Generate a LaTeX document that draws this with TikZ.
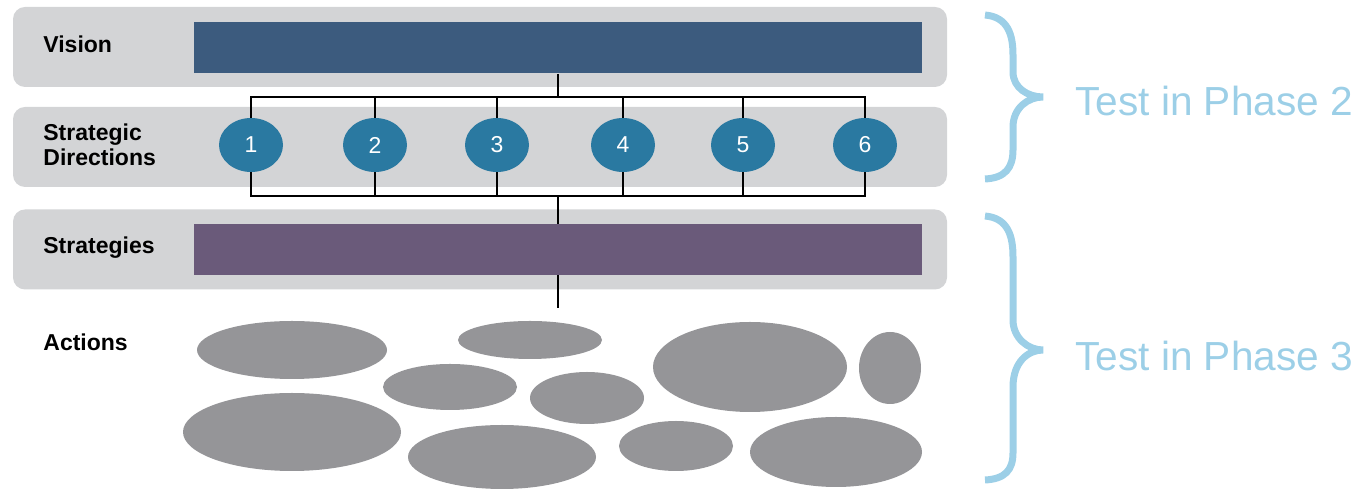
\documentclass[tikz,border=0pt]{standalone}
\usepackage{fontspec}
\setmainfont{Liberation Sans}
\usetikzlibrary{shapes.geometric}
\definecolor{band}{HTML}{D3D4D6}
\definecolor{visbar}{HTML}{3C5B7E}
\definecolor{stratbar}{HTML}{6A5A7A}
\definecolor{dirc}{HTML}{2A79A1}
\definecolor{actg}{HTML}{959598}
\definecolor{phase}{HTML}{9CCFE7}
\tikzset{
  bandbox/.style={fill=band, rounded corners=6pt, minimum width=467pt, minimum height=40pt, inner sep=0pt},
  barbox/.style={inner sep=0pt, minimum width=364pt, minimum height=25.5pt},
  dirnode/.style={ellipse, fill=dirc, minimum width=32pt, minimum height=27pt, inner sep=0pt, text=white, font=\fontsize{11.5}{13}\selectfont},
  lbl/.style={anchor=west, font=\bfseries\fontsize{11.5}{13.5}\selectfont, align=left, inner sep=0pt},
  act/.style={ellipse, fill=actg, inner sep=0pt},
  conn/.style={draw=black, line width=0.8pt},
  brace/.style={draw=phase, line width=3.5pt},
  phasetxt/.style={text=phase, font=\fontsize{20.3}{24}\selectfont, anchor=west, inner sep=0pt}
}
\begin{document}
\begin{tikzpicture}[x=0.5pt, y=-0.5pt]
\useasboundingbox (0,0) rectangle (1372,490);
% bands
\node[bandbox] (b1) at (480,47) {};
\node[bandbox] (b2) at (480,147) {};
\node[bandbox] (b3) at (480,249.5) {};
% bars
\node[barbox, fill=visbar] (vis) at (558,48) {};
\node[barbox, fill=stratbar] (strat) at (558,249.5) {};
% labels
\node[lbl] (lv) at (43,44) {Vision};
\node[lbl] (ld) at (43,145) {Strategic\\[-1pt]Directions};
\node[lbl] (ls) at (43,248) {Strategies};
\node[lbl] (la) at (43,342) {Actions};
% direction circles
\node[dirnode] (c1) at (251,145) {1};
\node[dirnode] (c2) at (375,145) {2};
\node[dirnode] (c3) at (497,145) {3};
\node[dirnode] (c4) at (623,145) {4};
\node[dirnode] (c5) at (743,145) {5};
\node[dirnode] (c6) at (865,145) {6};
% connectors
\coordinate (top) at (558,97);
\coordinate (bot) at (558,196);
\coordinate (endl) at (558,308);
\draw[conn] (vis.south) -- (top);
\draw[conn] (c1.north) -- (c1.north |- top) -- (c6.north |- top) -- (c6.north);
\foreach \i in {2,3,4,5} { \draw[conn] (c\i.north) -- (c\i.north |- top); }
\draw[conn] (c1.south) -- (c1.south |- bot) -- (c6.south |- bot) -- (c6.south);
\foreach \i in {2,3,4,5} { \draw[conn] (c\i.south) -- (c\i.south |- bot); }
\draw[conn] (bot) -- (strat.north);
\draw[conn] (strat.south) -- (endl);
% actions
\node[act, minimum width=95pt, minimum height=29pt] (a1) at (292,350) {};
\node[act, minimum width=72pt, minimum height=19pt] (a2) at (530,340) {};
\node[act, minimum width=97pt, minimum height=45pt] (a3) at (750,367) {};
\node[act, minimum width=31pt, minimum height=36pt] (a4) at (890,368) {};
\node[act, minimum width=67pt, minimum height=23pt] (a5) at (450,387) {};
\node[act, minimum width=57pt, minimum height=26pt] (a6) at (587,398) {};
\node[act, minimum width=109pt, minimum height=39pt] (a7) at (292,432) {};
\node[act, minimum width=94pt, minimum height=32pt] (a8) at (502,457) {};
\node[act, minimum width=57pt, minimum height=25pt] (a9) at (676,446) {};
\node[act, minimum width=86pt, minimum height=35pt] (a10) at (836,452) {};
% braces
\draw[brace] (985,15) .. controls (1008,17) and (1013,35) .. (1013,55) -- (1013,72)
  .. controls (1013,88) and (1028,97) .. (1043,97)
  .. controls (1028,97) and (1013,108) .. (1013,127) -- (1013,150)
  .. controls (1013,168) and (1005,178) .. (985,179);
\draw[brace] (985,216) .. controls (1008,218) and (1013,236) .. (1013,257) -- (1013,320)
  .. controls (1013,338) and (1028,350) .. (1043,350)
  .. controls (1028,350) and (1013,362) .. (1013,387) -- (1013,453)
  .. controls (1013,470) and (1005,479) .. (985,480);
\node[phasetxt] (p2) at (1075,101) {Test in Phase 2};
\node[phasetxt] (p3) at (1075,356) {Test in Phase 3};
\end{tikzpicture}
\end{document}
